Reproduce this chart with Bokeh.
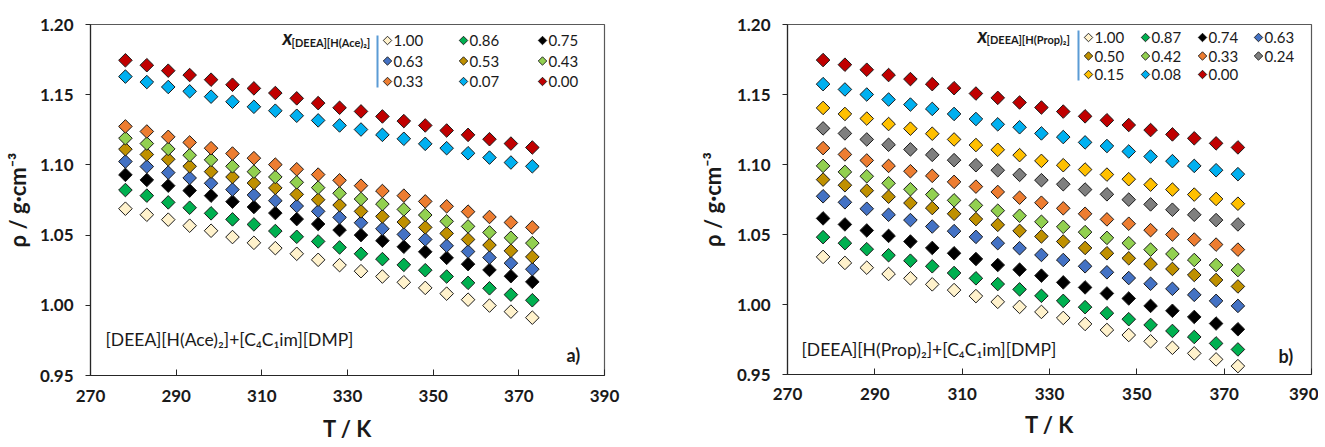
import numpy as np
from bokeh.plotting import figure
from bokeh.layouts import row
from bokeh.models import (Range1d, FixedTicker, NumeralTickFormatter, Label,
                          BoxAnnotation)
from bokeh.embed import file_html
from bokeh.resources import INLINE

# ---------------- data ----------------
T = [278.15, 283.15, 288.15, 293.15, 298.15, 303.15, 308.15, 313.15, 318.15, 323.15,
     328.15, 333.15, 338.15, 343.15, 348.15, 353.15, 358.15, 363.15, 368.15, 373.15]

# panel a) [DEEA][H(Ace)2] + [C4C1im][DMP]
a_labels = ["1.00", "0.86", "0.75", "0.63", "0.53", "0.43", "0.33", "0.07", "0.00"]
a_100 = [1.0688, 1.0645, 1.0610, 1.0567, 1.0531, 1.0486, 1.0445, 1.0407, 1.0367, 1.0324,
         1.0286, 1.0243, 1.0205, 1.0164, 1.0124, 1.0083, 1.0040, 0.9998, 0.9955, 0.9912]
a_086 = [1.0821, 1.0781, 1.0733, 1.0695, 1.0655, 1.0612, 1.0576, 1.0529, 1.0488, 1.0455,
         1.0412, 1.0367, 1.0329, 1.0288, 1.0250, 1.0205, 1.0160, 1.0121, 1.0076, 1.0036]
a_075 = [1.0929, 1.0893, 1.0852, 1.0817, 1.0781, 1.0738, 1.0700, 1.0657, 1.0614, 1.0579,
         1.0536, 1.0500, 1.0460, 1.0417, 1.0381, 1.0338, 1.0293, 1.0252, 1.0207, 1.0167]
a_063 = [1.1024, 1.0988, 1.0945, 1.0907, 1.0869, 1.0824, 1.0786, 1.0745, 1.0707, 1.0669,
         1.0626, 1.0588, 1.0545, 1.0505, 1.0469, 1.0424, 1.0383, 1.0340, 1.0300, 1.0257]
a_053 = [1.1112, 1.1074, 1.1040, 1.0990, 1.0952, 1.0914, 1.0871, 1.0836, 1.0790, 1.0752,
         1.0714, 1.0669, 1.0633, 1.0593, 1.0555, 1.0512, 1.0469, 1.0429, 1.0388, 1.0345]
a_043 = [1.1190, 1.1152, 1.1114, 1.1069, 1.1036, 1.0990, 1.0952, 1.0914, 1.0876, 1.0838,
         1.0798, 1.0757, 1.0721, 1.0683, 1.0643, 1.0598, 1.0562, 1.0519, 1.0481, 1.0443]
a_033 = [1.1274, 1.1238, 1.1200, 1.1160, 1.1119, 1.1081, 1.1048, 1.1002, 1.0969, 1.0931,
         1.0890, 1.0852, 1.0814, 1.0781, 1.0740, 1.0705, 1.0667, 1.0629, 1.0590, 1.0555]
a_007 = [1.1629, 1.1590, 1.1555, 1.1524, 1.1486, 1.1450, 1.1414, 1.1386, 1.1350, 1.1317,
         1.1281, 1.1252, 1.1214, 1.1186, 1.1150, 1.1119, 1.1083, 1.1052, 1.1017, 1.0990]
a_000 = [1.1745, 1.1710, 1.1671, 1.1640, 1.1607, 1.1571, 1.1545, 1.1512, 1.1474, 1.1440,
         1.1407, 1.1381, 1.1345, 1.1312, 1.1281, 1.1245, 1.1214, 1.1183, 1.1152, 1.1124]

# panel b) [DEEA][H(Prop)2] + [C4C1im][DMP]
b_labels = ["1.00", "0.87", "0.74", "0.63", "0.50", "0.42", "0.33", "0.24", "0.15", "0.08", "0.00"]
b_100 = [1.0340, 1.0297, 1.0263, 1.0218, 1.0187, 1.0144, 1.0103, 1.0060, 1.0019, 0.9983,
         0.9947, 0.9904, 0.9861, 0.9818, 0.9782, 0.9737, 0.9691, 0.9651, 0.9608, 0.9560]
b_087 = [1.0481, 1.0438, 1.0395, 1.0352, 1.0313, 1.0273, 1.0225, 1.0187, 1.0146, 1.0108,
         1.0062, 1.0026, 0.9981, 0.9938, 0.9895, 0.9854, 0.9811, 0.9768, 0.9722, 0.9679]
b_074 = [1.0615, 1.0572, 1.0529, 1.0490, 1.0450, 1.0404, 1.0366, 1.0325, 1.0282, 1.0249,
         1.0206, 1.0158, 1.0122, 1.0079, 1.0043, 0.9990, 0.9955, 0.9911, 0.9864, 0.9823]
b_063 = [1.0773, 1.0730, 1.0684, 1.0641, 1.0603, 1.0557, 1.0524, 1.0483, 1.0438, 1.0402,
         1.0354, 1.0318, 1.0273, 1.0230, 1.0189, 1.0148, 1.0112, 1.0069, 1.0026, 0.9990]
b_050 = [1.0892, 1.0852, 1.0813, 1.0770, 1.0725, 1.0689, 1.0648, 1.0610, 1.0569, 1.0526,
         1.0486, 1.0450, 1.0404, 1.0366, 1.0330, 1.0289, 1.0254, 1.0211, 1.0175, 1.0129]
b_042 = [1.0990, 1.0947, 1.0916, 1.0866, 1.0823, 1.0785, 1.0744, 1.0708, 1.0670, 1.0634,
         1.0591, 1.0555, 1.0517, 1.0476, 1.0438, 1.0392, 1.0361, 1.0318, 1.0282, 1.0246]
b_033 = [1.1117, 1.1072, 1.1029, 1.0990, 1.0952, 1.0919, 1.0876, 1.0842, 1.0804, 1.0763,
         1.0727, 1.0687, 1.0648, 1.0608, 1.0577, 1.0531, 1.0500, 1.0464, 1.0428, 1.0392]
b_024 = [1.1258, 1.1222, 1.1179, 1.1141, 1.1108, 1.1069, 1.1031, 1.0995, 1.0959, 1.0926,
         1.0888, 1.0859, 1.0821, 1.0787, 1.0749, 1.0715, 1.0677, 1.0641, 1.0603, 1.0572]
b_015 = [1.1404, 1.1361, 1.1328, 1.1289, 1.1256, 1.1220, 1.1179, 1.1139, 1.1105, 1.1067,
         1.1026, 1.0995, 1.0964, 1.0928, 1.0895, 1.0856, 1.0821, 1.0785, 1.0754, 1.0720]
b_008 = [1.1574, 1.1536, 1.1500, 1.1464, 1.1428, 1.1397, 1.1361, 1.1325, 1.1287, 1.1266,
         1.1222, 1.1196, 1.1158, 1.1132, 1.1093, 1.1057, 1.1024, 1.0990, 1.0959, 1.0931]
b_000 = [1.1746, 1.1713, 1.1677, 1.1639, 1.1610, 1.1574, 1.1545, 1.1507, 1.1476, 1.1443,
         1.1407, 1.1378, 1.1344, 1.1316, 1.1282, 1.1246, 1.1215, 1.1187, 1.1151, 1.1122]

x_ticks = [270, 290, 310, 330, 350, 370, 390]
y_ticks = [0.95, 1.00, 1.05, 1.10, 1.15, 1.20]
X_MIN, X_MAX, Y_MIN, Y_MAX = 270, 390, 0.95, 1.20

C_CREAM, C_GREEN, C_BLACK, C_BLUE = "#FFF2CC", "#00B050", "#000000", "#4472C4"
C_GOLD, C_LGREEN, C_ORANGE, C_GRAY = "#BF9000", "#92D050", "#ED7D31", "#7F7F7F"
C_YELLOW, C_SKY, C_RED = "#FFC000", "#00B0F0", "#C00000"

a_series = [a_100, a_086, a_075, a_063, a_053, a_043, a_033, a_007, a_000]
a_colors = [C_CREAM, C_GREEN, C_BLACK, C_BLUE, C_GOLD, C_LGREEN, C_ORANGE, C_SKY, C_RED]
b_series = [b_100, b_087, b_074, b_063, b_050, b_042, b_033, b_024, b_015, b_008, b_000]
b_colors = [C_CREAM, C_GREEN, C_BLACK, C_BLUE, C_GOLD, C_LGREEN, C_ORANGE, C_GRAY,
            C_YELLOW, C_SKY, C_RED]

FONT = "Lato"
TXT = "#1a1a1a"
EDGE = "#1a1a1a"


def make_panel(series, colors, labels, sub_text, mixture, tag, geo):
    fw, fh = geo["fw"], geo["fh"]
    p = figure(frame_width=fw, frame_height=fh,
               x_range=Range1d(X_MIN, X_MAX), y_range=Range1d(Y_MIN, Y_MAX),
               output_backend="svg", toolbar_location=None,
               min_border_left=geo["l"], min_border_right=geo["r"],
               min_border_top=geo["t"], min_border_bottom=geo["b"])
    p.xgrid.visible = False
    p.ygrid.visible = False
    p.outline_line_color = "#595959"
    p.outline_line_width = 1.2
    p.background_fill_color = "white"
    p.border_fill_color = "white"

    xa, ya = p.xaxis[0], p.yaxis[0]
    xa.ticker = FixedTicker(ticks=x_ticks)
    ya.ticker = FixedTicker(ticks=y_ticks)
    ya.formatter = NumeralTickFormatter(format="0.00")
    for ax in (xa, ya):
        ax.axis_line_color = "#262626"
        ax.axis_line_width = 1.2
        ax.major_tick_line_color = "#262626"
        ax.minor_tick_line_color = None
        ax.major_label_text_font = FONT
        ax.major_label_text_font_size = "17px"
        ax.major_label_text_font_style = "bold"
        ax.major_label_text_color = TXT
        ax.axis_label_text_font = FONT
        ax.axis_label_text_font_size = "22px"
        ax.axis_label_text_font_style = "bold"
        ax.axis_label_text_color = TXT
    xa.major_tick_in, xa.major_tick_out = 6, 0
    ya.major_tick_in, ya.major_tick_out = 0, 5
    xa.major_label_standoff = geo["xls"]
    ya.major_label_standoff = 12
    xa.axis_label = "T / K"
    ya.axis_label = "ρ / g·cm⁻³"
    xa.axis_label_standoff = geo["xas"]
    ya.axis_label_standoff = geo["yas"]

    # data points
    for vals, col in zip(series, colors):
        p.scatter(T, vals, marker="square", angle=np.pi / 4, size=9.6,
                  fill_color=col, line_color=EDGE, line_width=1)

    # legend (keys laid out in a grid, positions in frame pixels)
    def sx(px):
        return X_MIN + px / fw * (X_MAX - X_MIN)

    def sy(py):
        return Y_MAX - py / fh * (Y_MAX - Y_MIN)

    cols, rows = geo["leg_cols"], geo["leg_rows"]
    for i, (col, lab) in enumerate(zip(colors, labels)):
        cx = cols[i % len(cols)]
        ry = rows[i // len(cols)]
        p.scatter([sx(cx)], [sy(ry)], marker="square", angle=np.pi / 4, size=6,
                  fill_color=col, line_color=EDGE, line_width=0.9)
        p.add_layout(Label(x=cx + 6, y=fh - ry, x_units="screen", y_units="screen",
                           text=lab, text_font=FONT, text_font_size="15px",
                           text_baseline="middle", text_color=TXT))

    tx, ty = geo["title_xy"]
    p.add_layout(Label(x=tx, y=ty, x_units="screen", y_units="screen", text="x",
                       text_font=FONT, text_font_style="bold italic",
                       text_font_size="20px", text_baseline="middle", text_color=TXT))
    s_x, s_y = geo["sub_xy"]
    p.add_layout(Label(x=s_x, y=s_y, x_units="screen", y_units="screen", text=sub_text,
                       text_font=FONT, text_font_style="bold",
                       text_font_size="11px", text_baseline="middle", text_color=TXT))
    bl, bt, bb = geo["bar"]
    p.add_layout(BoxAnnotation(left=bl, right=bl + 2, top=bt, bottom=bb,
                               left_units="screen", right_units="screen",
                               top_units="screen", bottom_units="screen",
                               fill_color="#5B9BD5", fill_alpha=1, line_color=None))
    mx, my = geo["mix_xy"]
    p.add_layout(Label(x=mx, y=my, x_units="screen", y_units="screen", text=mixture,
                       text_font=FONT, text_font_size="17.5px", text_baseline="middle",
                       text_color=TXT))
    gx, gy = geo["tag_xy"]
    p.add_layout(Label(x=gx, y=gy, x_units="screen", y_units="screen", text=tag,
                       text_font=FONT, text_font_style="bold", text_font_size="18px",
                       text_baseline="middle", text_color=TXT))
    return p


geo_a = dict(fw=514, fh=351, l=82, r=54, t=14, b=74, xls=14, xas=10, yas=6,
             leg_cols=[297, 373, 452], leg_rows=[16, 36.5, 57],
             title_xy=(192, 339), sub_xy=(201, 333), bar=(286, 340, 288),
             mix_xy=(15, 36), tag_xy=(476, 21))
geo_b = dict(fw=524, fh=350, l=129, r=7, t=24, b=68, xls=13, xas=8, yas=8,
             leg_cols=[301, 358, 415, 471], leg_rows=[13, 31.5, 50],
             title_xy=(190, 340), sub_xy=(199, 335), bar=(290, 344, 294),
             mix_xy=(14, 25), tag_xy=(491, 19))

pa = make_panel(a_series, a_colors, a_labels, "[DEEA][H(Ace)₂]",
                "[DEEA][H(Ace)₂]+[C₄C₁im][DMP]", "a)", geo_a)
pb = make_panel(b_series, b_colors, b_labels, "[DEEA][H(Prop)₂]",
                "[DEEA][H(Prop)₂]+[C₄C₁im][DMP]", "b)", geo_b)

layout = row(pa, pb)
open("out.html", "w").write(file_html(layout, INLINE))
